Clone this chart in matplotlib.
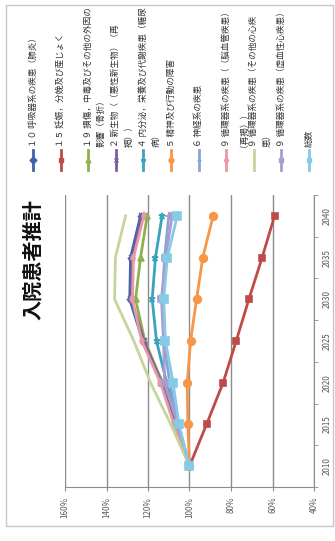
import matplotlib
matplotlib.use("Agg")
import matplotlib.pyplot as plt
from matplotlib.lines import Line2D
from matplotlib.patches import Rectangle

plt.rcParams['font.family'] = ['Noto Sans CJK JP', 'DejaVu Sans']

years = ['2010', '2015', '2020', '2025', '2030', '2035', '2040']
pct_ticks = [160, 140, 120, 100, 80, 60, 40]

# legend text: first line, wrapped remainder
labels = [
    ('１０ 呼吸器系の疾患（肺炎）', ''),
    ('１５ 妊娠，分娩及び産じょく', ''),
    ('１９ 損傷，中毒及びその他の外因の', '影響（骨折）'),
    ('２ 新生物（（悪性新生物）（再', '掲））'),
    ('４ 内分泌，栄養及び代謝疾患（糖尿', '病）'),
    ('５ 精神及び行動の障害', ''),
    ('６ 神経系の疾患', ''),
    ('９ 循環器系の疾患（（脳血管疾患）', '（再掲））'),
    ('９ 循環器系の疾患（その他の心疾', '患）'),
    ('９ 循環器系の疾患（虚血性心疾患）', ''),
    ('総数', ''),
]

# index values, 2010 = 100
resp = [100, 107.0, 113.0, 122.5, 128.8, 128.4, 123.6]
preg = [100, 91.8, 83.8, 77.5, 71.4, 65.0, 59.0]
injury = [100, 106.5, 113.0, 121.5, 126.0, 123.6, 120.4]
neoplasm = [100, 107.0, 113.5, 122.0, 128.0, 127.5, 123.0]
endocrine = [100, 106.0, 111.0, 115.9, 118.0, 116.4, 113.2]
mental = [100, 100.8, 101.1, 99.5, 96.6, 93.6, 88.6]
nervous = [100, 105.5, 109.5, 112.5, 113.0, 112.0, 110.0]
cerebro = [100, 107.5, 114.0, 123.0, 127.5, 127.0, 122.0]
other_heart = [100, 109.0, 118.8, 126.8, 136.1, 135.7, 130.8]
ischemic = [100, 105.5, 112.0, 112.5, 113.5, 111.6, 108.3]
total = [100, 105.1, 107.9, 111.6, 112.4, 110.7, 105.9]

series = [resp, preg, injury, neoplasm, endocrine, mental,
          nervous, cerebro, other_heart, ischemic, total]
colors = ['#3d65a8', '#be4b48', '#8fb04e', '#7a5ca6', '#3aa3bd', '#f79646',
          '#86a4d8', '#e69aa6', '#c3d69b', '#ab9bcf', '#86cbe6']
markers = ['D', 's', '^', 'x', '*', 'o', '+', 'd', None, 's', 's']
msizes = [3, 5, 4, 5, 5, 5.5, 6, 4, 0, 4, 6]

W, H = 335, 541
def fx(x):
    return x / W
def fy(y):
    return 1 - y / H

fig = plt.figure(figsize=(3.35, 5.41), dpi=100)

# outer frame
fig.add_artist(Rectangle((fx(6), fy(526)), fx(327), 521 / H, transform=fig.transFigure,
                         fill=False, edgecolor='#c8c8c8', lw=1))

ax = fig.add_axes([fx(65), fy(487), fx(314) - fx(65), (487 - 195) / H])
pos = list(range(len(years)))
for vals, c, m, ms in zip(series, colors, markers, msizes):
    ax.plot(vals, pos, color=c, lw=2, marker=m, markersize=ms,
            markeredgewidth=1.2, solid_joinstyle='round')

ax.set_xlim(160, 40)
ax.set_ylim(-0.5, len(years) - 0.5)
ax.set_xticks(pct_ticks)
ax.set_xticklabels([f'{p}%' for p in pct_ticks], rotation=90, fontsize=5.8, color='#595959')
ax.xaxis.grid(True, color='#8c8c8c', lw=1)
ax.set_axisbelow(True)

ax.yaxis.tick_right()
ax.set_yticks(pos)
ax.set_yticklabels(years, rotation=90, va='center', fontsize=5.8, color='#595959')
ax.set_yticks([p - 0.5 for p in pos] + [len(years) - 0.5], minor=True)
ax.tick_params(axis='y', which='major', length=0, pad=6)
ax.tick_params(axis='y', which='minor', length=3, color='#8c8c8c', direction='out')
ax.tick_params(axis='x', length=3, color='#8c8c8c', pad=4)

for s in ['top', 'left']:
    ax.spines[s].set_visible(False)
for s in ['bottom', 'right']:
    ax.spines[s].set_color('#8c8c8c')

# title
fig.text(fx(33), fy(260), '入院患者推計', rotation=90, fontsize=14.5, fontweight='bold',
         ha='center', va='center', color='#111111')

# legend as columns
for i, ((line1, line2), c, m) in enumerate(zip(labels, colors, markers)):
    x = 33 + i * 27.6
    fig.add_artist(Line2D([fx(x), fx(x)], [fy(170), fy(150)], transform=fig.transFigure,
                          color=c, lw=2))
    if m is not None:
        fig.add_artist(Line2D([fx(x)], [fy(160)], transform=fig.transFigure, color=c,
                              marker=m, markersize=3.5, markeredgewidth=1))
    fig.text(fx(x), fy(147), line1, rotation=90, fontsize=6.2, ha='center', va='bottom',
             color='#333333')
    if line2:
        fig.text(fx(x + 13), fy(147), line2, rotation=90, fontsize=6.2, ha='center',
                 va='bottom', color='#333333')

fig.savefig('out.png', dpi=100)
